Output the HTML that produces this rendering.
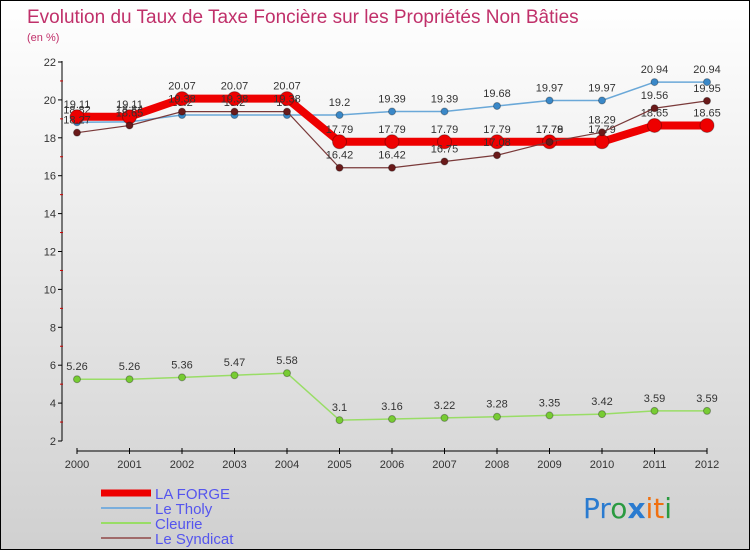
<!DOCTYPE html>
<html><head><meta charset="utf-8"><style>
body{margin:0;}
#c{width:750px;height:550px;position:relative;background:linear-gradient(#ffffff,#d0d0d0);border:1px solid #000;box-sizing:border-box;overflow:hidden;font-family:"Liberation Sans",sans-serif;}
</style></head><body>
<div id="c">
<svg id="s" width="750" height="550" style="position:absolute;left:0;top:0">
<text x="26" y="22" font-size="19" fill="#c0306a" font-family="Liberation Sans,sans-serif">Evolution du Taux de Taxe Foncière sur les Propriétés Non Bâties</text>
<text x="26" y="40" font-size="11" fill="#c0306a">(en %)</text>
<text x="582" y="517" font-size="28" font-family="DejaVu Sans,sans-serif"><tspan fill="#2a7bd0">Pr</tspan><tspan fill="#2a9a40">o</tspan><tspan fill="#2a7bd0" font-weight="bold">x</tspan><tspan fill="#f07010">it</tspan><tspan fill="#2a9a40">i</tspan></text>
</svg>
</div>
<script>
const years=["2000","2001","2002","2003","2004","2005","2006","2007","2008","2009","2010","2011","2012"];
const laForge=[19.11,19.11,20.07,20.07,20.07,17.79,17.79,17.79,17.79,17.79,17.79,18.65,18.65];
const leTholy=[18.82,18.84,19.2,19.2,19.2,19.2,19.39,19.39,19.68,19.97,19.97,20.94,20.94];
const cleurie=[5.26,5.26,5.36,5.47,5.58,3.1,3.16,3.22,3.28,3.35,3.42,3.59,3.59];
const leSyndicat=[18.27,18.65,19.38,19.38,19.38,16.42,16.42,16.75,17.08,17.78,18.29,19.56,19.95];
const yTicks=[2,4,6,8,10,12,14,16,18,20,22];
const NS="http://www.w3.org/2000/svg";
const svg=document.getElementById('s');
const X=i=>76+i*(706-76)/12;
const Y=v=>440-(v-2)*(379/20);
function mk(t,a,p){const e=document.createElementNS(NS,t);for(const k in a)e.setAttribute(k,a[k]);(p||svg).appendChild(e);return e;}
let ax=mk('line',{x1:61,y1:60,x2:61,y2:440,stroke:'#000'});


yTicks.forEach(v=>{mk('line',{x1:57,x2:61,y1:Y(v),y2:Y(v),stroke:'#000'});
 if(v<22)mk('line',{x1:59,x2:62,y1:Y(v+1),y2:Y(v+1),stroke:'#c00'});
 let t=mk('text',{x:55,y:Y(v)+4,'font-size':11,'text-anchor':'end',fill:'#333'});t.textContent=v;
 
 });
let xa=mk('line',{x1:76,y1:450,x2:706,y2:450,stroke:'#000'});


years.forEach((y,i)=>{mk('line',{x1:X(i),x2:X(i),y1:447,y2:453,stroke:'#000'});
 let t=mk('text',{x:X(i),y:467,'font-size':11,'text-anchor':'middle',fill:'#333'});t.textContent=y;
 
 });
function series(d,name,col,w,r,dcol){
 const g=mk('g',{});
 
 
 mk('polyline',{points:d.map((v,i)=>X(i)+','+Y(v)).join(' '),fill:'none',stroke:col,'stroke-width':w},g);
 d.forEach((v,i)=>{const c=mk('circle',{cx:X(i),cy:Y(v),r:r,fill:dcol,stroke:'rgba(0,0,0,0.3)'},g);
  
  
  const t=mk('text',{x:X(i),y:Y(v)-9,'font-size':11,'text-anchor':'middle',fill:'#333'},g);t.textContent=v;});
}
series(cleurie,'cleurie-series','#99dd66',1.5,3.5,'#77cc33');
series(leTholy,'le-tholy-series','#6aa8d8',1.5,3.5,'#3a88c8');
series(laForge,'la-forge-series','#ee0000',8,7,'#ee0000');
series(leSyndicat,'le-syndicat-series','#7a3a3a',1.2,3.5,'#6a1a1a');
const leg=[['LA FORGE','#ee0000',7],['Le Tholy','#7aaedc',2],['Cleurie','#99dd66',2],['Le Syndicat','#a06a6a',2]];
leg.forEach((l,i)=>{const g=mk('g',{});
 
 
 const y=492+i*15;
 mk('line',{x1:100,x2:150,y1:y,y2:y,stroke:l[1],'stroke-width':l[2]},g);
 const t=mk('text',{x:154,y:y+6,'font-size':15,fill:'#5555ee'},g);t.textContent=l[0];});
</script>
</body></html>
